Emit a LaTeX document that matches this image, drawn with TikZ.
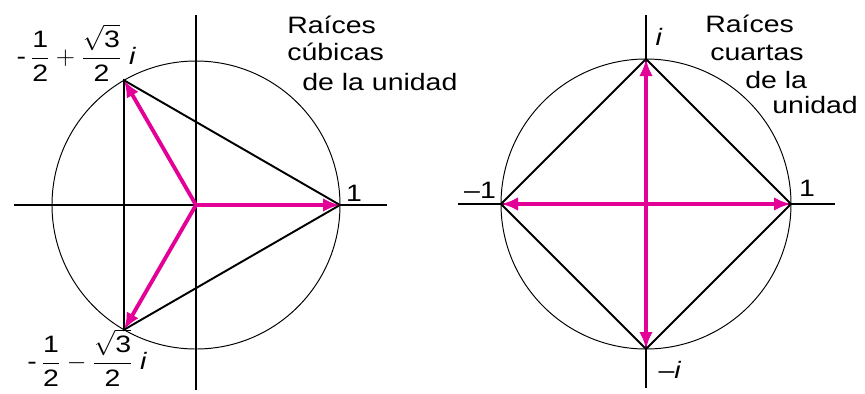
\documentclass[tikz,border=0pt]{standalone}
\usepackage{amsmath}
\usepackage{fontspec}
\setmainfont[FakeStretch=1.2]{Liberation Sans}
\usetikzlibrary{arrows.meta,positioning}
\definecolor{RaizMagenta}{RGB}{226,0,150}

\begin{document}
\begin{tikzpicture}[x=0.02cm,y=-0.02cm,>={Latex[length=0.34cm,width=0.27cm]},
    eje/.style={line width=1.1pt},
    lado/.style={line width=1.1pt},
    circulo/.style={line width=0.55pt},
    raiz/.style={->,line width=2.2pt,RaizMagenta},
    rotulo/.style={font=\fontsize{13.5}{16}\selectfont,inner sep=0pt}]
      \useasboundingbox (0,0) rectangle (865,393);
      % raices cubicas
      \coordinate (O1) at (196,205);
      \coordinate (C0) at (340,205);
      \coordinate (C1) at (124,80.3);
      \coordinate (C2) at (124,329.7);
      \coordinate (EjeXa) at (14,205);
      \coordinate (EjeXb) at (387,205);
      \coordinate (EjeYa) at (196,15);
      \coordinate (EjeYb) at (196,390);
      \draw[eje] (EjeXa)--(EjeXb);
      \draw[eje] (EjeYa)--(EjeYb);
      \draw[circulo] (O1) circle[radius=144];
      \draw[lado] (C0)--(C1)--(C2)--cycle;
      \draw[raiz] (O1)--(C0);
      \draw[raiz] (O1)--(C1);
      \draw[raiz] (O1)--(C2);
      \node[rotulo] (uno1) at (354,193) {1};
      \node[rotulo] (lblC1) at (76,53) {$\text{-}\,\dfrac{\text{1}}{\text{2}}+\dfrac{\sqrt{\text{3}}}{\text{2}}\;\textit{i}$};
      \node[rotulo] (lblC2) at (87,358) {$\text{-}\,\dfrac{\text{1}}{\text{2}}-\dfrac{\sqrt{\text{3}}}{\text{2}}\;\textit{i}$};
      \node[rotulo,anchor=base west] (titA1) at (287,33) {Raíces};
      \node[rotulo,anchor=base west] (titA2) at (287,60) {cúbicas};
      \node[rotulo,anchor=base west] (titA3) at (302,90) {de la unidad};
      % raices cuartas
      \coordinate (O2) at (646,204);
      \coordinate (Q0) at (791,204);
      \coordinate (Q1) at (646,59);
      \coordinate (Q2) at (501,204);
      \coordinate (Q3) at (646,349);
      \coordinate (EjeUa) at (458,204);
      \coordinate (EjeUb) at (835,204);
      \coordinate (EjeVa) at (646,15);
      \coordinate (EjeVb) at (646,388);
      \draw[eje] (EjeUa)--(EjeUb);
      \draw[eje] (EjeVa)--(EjeVb);
      \draw[circulo] (O2) circle[radius=145];
      \draw[lado] (Q0)--(Q1)--(Q2)--(Q3)--cycle;
      \draw[raiz] (O2)--(Q0);
      \draw[raiz] (O2)--(Q1);
      \draw[raiz] (O2)--(Q2);
      \draw[raiz] (O2)--(Q3);
      \node[rotulo] (uno2) at (807,188) {1};
      \node[rotulo] (menosuno) at (480,190) {–1};
      \node[rotulo] (imas) at (659,37) {\textit{i}};
      \node[rotulo] (imenos) at (670,370) {–\textit{i}};
      \node[rotulo,anchor=base west] (titB1) at (705,32) {Raíces};
      \node[rotulo,anchor=base west] (titB2) at (710,60) {cuartas};
      \node[rotulo,anchor=base west] (titB3) at (745,88) {de la};
      \node[rotulo,anchor=base west] (titB4) at (772,113) {unidad};
    \end{tikzpicture}
\end{document}
